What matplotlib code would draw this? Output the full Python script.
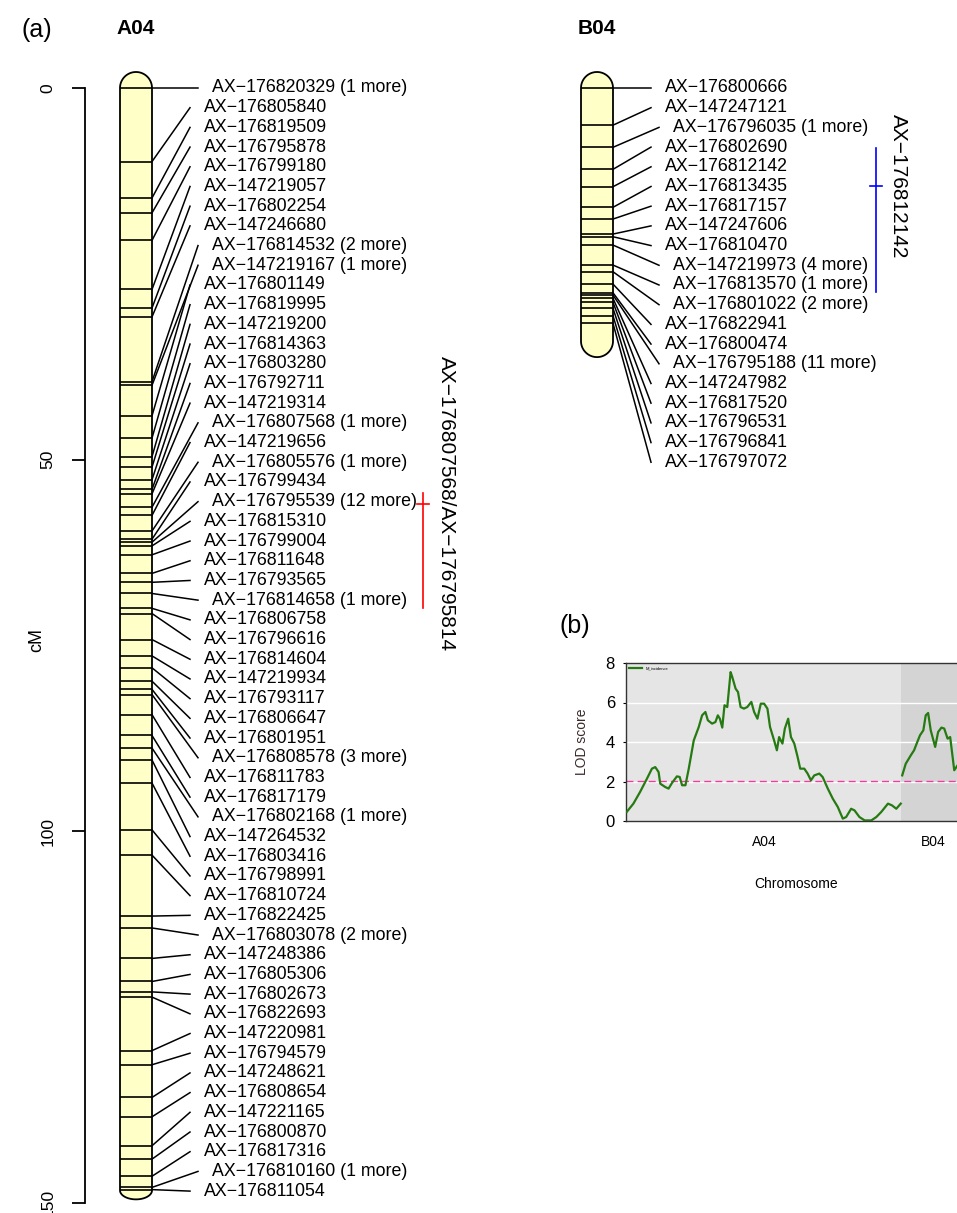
import numpy as np
import matplotlib
matplotlib.use("Agg")
import matplotlib.pyplot as plt

plt.rcParams['font.family'] = ['Liberation Sans', 'DejaVu Sans']

# ---- linkage map data (cM) ----
a04_pos = [0.0, 9.9, 14.8, 16.8, 20.5, 27.1, 29.6, 30.8, 39.5, 40.0,
           44.1, 47.1, 49.6, 51.0, 52.7, 54.0, 54.6, 56.4, 57.5, 59.6,
           60.7, 61.1, 61.6, 62.8, 65.3, 66.5, 68.0, 70.0, 70.7, 74.2,
           76.4, 78.0, 79.8, 80.9, 81.6, 84.3, 87.1, 88.8, 90.4, 93.5,
           99.8, 103.2, 111.4, 113.0, 117.1, 120.2, 121.6, 122.3, 129.5, 131.4,
           135.8, 138.4, 142.3, 144.1, 146.4, 147.9, 148.2]
a04_names = ["AX−176820329 (1 more)", "AX−176805840", "AX−176819509", "AX−176795878", "AX−176799180",
             "AX−147219057", "AX−176802254", "AX−147246680", "AX−176814532 (2 more)", "AX−147219167 (1 more)",
             "AX−176801149", "AX−176819995", "AX−147219200", "AX−176814363", "AX−176803280",
             "AX−176792711", "AX−147219314", "AX−176807568 (1 more)", "AX−147219656", "AX−176805576 (1 more)",
             "AX−176799434", "AX−176795539 (12 more)", "AX−176815310", "AX−176799004", "AX−176811648",
             "AX−176793565", "AX−176814658 (1 more)", "AX−176806758", "AX−176796616", "AX−176814604",
             "AX−147219934", "AX−176793117", "AX−176806647", "AX−176801951", "AX−176808578 (3 more)",
             "AX−176811783", "AX−176817179", "AX−176802168 (1 more)", "AX−147264532", "AX−176803416",
             "AX−176798991", "AX−176810724", "AX−176822425", "AX−176803078 (2 more)", "AX−147248386",
             "AX−176805306", "AX−176802673", "AX−176822693", "AX−147220981", "AX−176794579",
             "AX−147248621", "AX−176808654", "AX−147221165", "AX−176800870", "AX−176817316",
             "AX−176810160 (1 more)", "AX−176811054"]
a04_len = 148.3

b04_pos = [0.0, 5.0, 7.98, 10.94, 13.28, 16.05, 17.63, 19.65, 20.01, 21.13,
           23.82, 24.72, 26.38, 27.55, 27.86, 28.30, 28.84, 29.65, 30.64, 31.67]
b04_names = ["AX−176800666", "AX−147247121", "AX−176796035 (1 more)", "AX−176802690", "AX−176812142",
             "AX−176813435", "AX−176817157", "AX−147247606", "AX−176810470", "AX−147219973 (4 more)",
             "AX−176813570 (1 more)", "AX−176801022 (2 more)", "AX−176822941", "AX−176800474", "AX−176795188 (11 more)",
             "AX−147247982", "AX−176817520", "AX−176796531", "AX−176796841", "AX−176797072"]
b04_len = 34.05

# QTL intervals: start, peak, end (cM)
a04_qtl = [54.5, 55.9, 69.9]
a04_qtl_label = "AX−176807568/AX−176795814"
b04_qtl = [8.1, 13.2, 27.5]
b04_qtl_label = "AX−176812142"

# ---- LOD profile ----
lod_a04_pos = [0, 3.6, 7.2, 10.9, 13.6, 15.4, 17.2, 18.1, 20.8, 22.6, 24.4, 27.1, 28.6, 29.9,
               31.7, 33.5, 36.2, 38.9, 40.7, 42.5, 43.8, 46.1, 47.9, 49.2, 50.3, 51.6, 52.8,
               54.3, 56.1, 57.0, 58.8, 60.1, 61.5, 63.3, 65.1, 67.3, 68.8, 70.6, 72.4, 74.2,
               76.0, 77.4, 79.6, 81.1, 82.3, 84.1, 85.4, 87.2, 88.7, 90.5, 92.3, 93.7, 95.9,
               97.7, 99.5, 101.3, 104.0, 105.8, 108.6, 111.3, 114.0, 116.7, 118.5, 121.2,
               123.0, 125.7, 128.5, 132.1, 134.8, 137.5, 141.1, 143.3, 145.6, 148.0]
lod_a04 = [0.46, 0.88, 1.47, 2.14, 2.65, 2.73, 2.48, 1.89, 1.72, 1.64, 1.92, 2.26, 2.23, 1.81,
           1.81, 2.65, 4.08, 4.76, 5.35, 5.52, 5.10, 4.93, 5.01, 5.35, 5.18, 4.73, 5.86,
           5.77, 7.54, 7.29, 6.70, 6.53, 5.77, 5.69, 5.77, 6.03, 5.52, 5.18, 5.94, 5.94,
           5.69, 4.76, 4.08, 3.58, 4.25, 3.92, 4.68, 5.18, 4.25, 3.92, 3.24, 2.65, 2.65,
           2.40, 2.06, 2.31, 2.40, 2.23, 1.64, 1.13, 0.71, 0.12, 0.20, 0.62,
           0.54, 0.20, 0.03, 0.03, 0.20, 0.46, 0.88, 0.79, 0.62, 0.88]
lod_b04_pos = [0.5, 2.4, 5.1, 6.9, 8.3, 10.1, 11.9, 13.2, 14.5, 15.9, 18.3, 19.9,
               21.7, 23.2, 25.0, 26.4, 28.6, 30.4]
lod_b04 = [2.31, 2.90, 3.32, 3.58, 3.92, 4.34, 4.59, 5.35, 5.47, 4.59, 3.75, 4.51,
           4.73, 4.68, 4.17, 4.25, 2.57, 2.82]
lod_threshold = 2.04

# ---- layout ----
W, H = 957, 1213
PX_CM = (1203 - 88) / 150.0
LABEL_GAP = 2.65

fig = plt.figure(figsize=(W / 100, H / 100), dpi=100)

axm = fig.add_axes([85 / W, (H - 1203) / H, (W - 85) / W, (1203 - 88) / H])
axm.set_xlim(85, W)
axm.set_ylim(150, 0)
axm.patch.set_alpha(0)
for s in ["top", "right", "bottom"]:
    axm.spines[s].set_visible(False)
axm.spines["left"].set_linewidth(1.3)
axm.set_xticks([])
axm.set_yticks([0, 50, 100, 150])
axm.set_yticklabels(["0", "50", "100", "150"], rotation=90, va="center", fontsize=12.5)
axm.tick_params(axis="y", length=9.5, width=1.3, pad=12)
fig.text(37 / W, 1 - 640 / H, "cM", rotation=90, ha="center", va="center", fontsize=13)


def draw_chrom(ax, x0, pos, names, length, cap_bot, title):
    w = 32
    r = w / 2
    xc = x0 + r
    r_cm = r / PX_CM
    cap_cm = cap_bot / PX_CM
    t = np.linspace(0, np.pi, 60)
    xs = np.concatenate([[x0], xc - r * np.cos(t), [x0 + w], xc + r * np.cos(t)])
    ys = np.concatenate([[0], length + cap_cm * np.sin(t), [0], -r_cm * np.sin(t)])
    ax.fill(xs, ys, facecolor="#FFFFC8", edgecolor="black", lw=1.3, clip_on=False, zorder=2)
    ax.hlines(pos, x0, x0 + w, color="black", lw=1.2, clip_on=False, zorder=3)
    lab_y = pos[0] + np.arange(len(pos)) * LABEL_GAP
    for p, ly, nm in zip(pos, lab_y, names):
        more = "more" in nm
        xe = x0 + w + (46 if more else 38)
        ax.plot([x0 + w, xe], [p, ly], color="black", lw=1.1, clip_on=False, zorder=3)
        ax.text(xe + 14, ly, nm, ha="left", va="center", fontsize=12.8, clip_on=False)
    ax.text(xc, -(88 - 28) / PX_CM, title, ha="center", va="center",
            fontsize=15, fontweight="bold", clip_on=False)


def draw_qtl(ax, x, qtl, label, color):
    ax.plot([x, x], [qtl[0], qtl[2]], color=color, lw=1.2, clip_on=False)
    ax.plot([x - 6, x + 6], [qtl[1], qtl[1]], color=color, lw=1.2, clip_on=False)
    ax.text(x + 23, qtl[1], label, rotation=270, ha="center", va="center",
            fontsize=15, clip_on=False)


draw_chrom(axm, 120, a04_pos, a04_names, a04_len, 9, "A04")
draw_chrom(axm, 581, b04_pos, b04_names, b04_len, 16, "B04")
draw_qtl(axm, 423, a04_qtl, a04_qtl_label, "#FF0000")
draw_qtl(axm, 875.5, b04_qtl, b04_qtl_label, "#0000FF")

fig.text(37 / W, 1 - 30 / H, "(a)", ha="center", va="center", fontsize=18)
fig.text(575 / W, 1 - 626 / H, "(b)", ha="center", va="center", fontsize=18)

# ---- panel (b): LOD profile ----
px_per_cm_b = (900 - 626) / 148.0
x_lo = -0.4
x_hi = 183.0
axb = fig.add_axes([626 / W, (H - 821) / H, (x_hi - x_lo) * px_per_cm_b / W, (821 - 663) / H])
axb.set_xlim(x_lo, x_hi)
axb.set_ylim(0, 8)
axb.axvspan(x_lo, a04_len, color="#E5E5E5", lw=0, zorder=0)
axb.axvspan(a04_len, x_hi, color="#D4D4D4", lw=0, zorder=0)
for yv in [2, 4, 6]:
    axb.axhline(yv, color="white", lw=1.0, zorder=1)
axb.plot(lod_a04_pos, lod_a04, color="#267A12", lw=1.6, zorder=3, label="M_incidence")
axb.plot(a04_len + np.array(lod_b04_pos), lod_b04, color="#267A12", lw=1.6, zorder=3)
axb.axhline(lod_threshold, color="#F03CA0", lw=1.0, ls=(0, (5, 3)), zorder=2)
axb.set_xticks([a04_len / 2, a04_len + b04_len / 2])
axb.set_xticklabels(["A04", "B04"], fontsize=10)
axb.set_yticks([0, 2, 4, 6, 8])
axb.set_yticklabels(["0", "2", "4", "6", "8"], fontsize=12)
axb.tick_params(axis="x", length=0, pad=10)
axb.tick_params(axis="y", length=2, pad=6)
for s in axb.spines.values():
    s.set_color("#333333")
    s.set_linewidth(1.0)
axb.set_xlabel("Chromosome", fontsize=10, labelpad=20)
axb.set_ylabel("LOD score", fontsize=10, color="#3A2A2A", labelpad=12)
axb.legend(loc="upper left", fontsize=3, frameon=False, handlelength=3, borderaxespad=0.4)

fig.savefig("out.png", dpi=100)
